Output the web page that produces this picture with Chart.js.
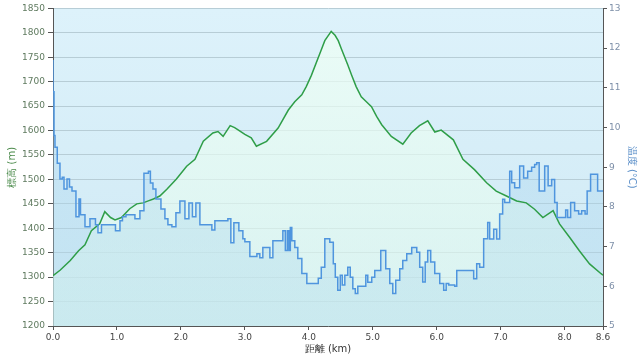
<!DOCTYPE html>
<html>
<head>
<meta charset="utf-8">
<script src="https://cdn.jsdelivr.net/npm/chart.js@4.4.1/dist/chart.umd.min.js"></script>
<style>
  html, body { margin: 0; padding: 0; background: #fff; }
  #wrap { width: 640px; height: 357px; }
</style>
</head>
<body>
<div id="wrap"><canvas id="myChart" width="640" height="357"></canvas></div>
<script>
// elevation profile (km, m)
const elevDist = [0, 0.11, 0.27, 0.40, 0.50, 0.60, 0.73, 0.81, 0.90, 0.97, 1.07, 1.20, 1.31, 1.41, 1.49, 1.57, 1.67, 1.78, 1.93,
  2.09, 2.22, 2.35, 2.50, 2.58, 2.66, 2.77, 2.84, 2.90, 3.00, 3.10, 3.18, 3.34, 3.52, 3.68, 3.78, 3.89, 3.96, 4.04, 4.20, 4.25,
  4.35, 4.41, 4.46, 4.51, 4.61, 4.67, 4.74, 4.82, 4.90, 4.98, 5.06, 5.14, 5.29, 5.47, 5.60, 5.73, 5.86, 5.97, 6.07, 6.26,
  6.41, 6.59, 6.78, 6.93, 7.09, 7.25, 7.40, 7.53, 7.66, 7.82, 7.92, 8.08, 8.23, 8.39, 8.57, 8.60];
const elevation = [1303, 1314, 1334, 1354, 1366, 1395, 1409, 1434, 1422, 1417, 1422, 1440, 1450, 1452, 1456, 1460, 1466, 1480, 1501,
  1527, 1541, 1578, 1595, 1598, 1588, 1610, 1606, 1601, 1592, 1585, 1568, 1578, 1605, 1642, 1659, 1673, 1690, 1713, 1767, 1784,
  1803, 1795, 1784, 1767, 1734, 1713, 1690, 1669, 1659, 1649, 1629, 1612, 1588, 1572, 1595, 1610, 1620, 1597, 1601, 1581,
  1541, 1520, 1493, 1476, 1466, 1456, 1452, 1439, 1422, 1436, 1409, 1381, 1354, 1327, 1307, 1304];

// temperature log (km where reading starts, °C)
const tempDist = [0, 0.016, 0.031, 0.067, 0.109, 0.145, 0.172, 0.219, 0.258, 0.297, 0.359, 0.406, 0.430, 0.500, 0.578, 0.664,
  0.703, 0.758, 0.977, 1.047, 1.086, 1.141, 1.281, 1.359, 1.422, 1.492, 1.523, 1.563, 1.609, 1.688, 1.750, 1.797, 1.859, 1.922,
  1.984, 2.063, 2.125, 2.180, 2.234, 2.297, 2.484, 2.531, 2.734, 2.781, 2.828, 2.906, 2.969, 3.000, 3.078, 3.188, 3.234, 3.281,
  3.391, 3.438, 3.594, 3.633, 3.664, 3.688, 3.711, 3.734, 3.781, 3.828, 3.891, 3.969, 4.148, 4.195, 4.250, 4.328, 4.383, 4.414,
  4.453, 4.492, 4.523, 4.563, 4.609, 4.648, 4.688, 4.727, 4.766, 4.891, 4.922, 4.984, 5.031, 5.125, 5.203, 5.266, 5.313, 5.359,
  5.422, 5.469, 5.531, 5.609, 5.688, 5.734, 5.781, 5.820, 5.859, 5.906, 5.969, 6.047, 6.109, 6.148, 6.188, 6.281, 6.313, 6.578,
  6.625, 6.672, 6.734, 6.797, 6.828, 6.891, 6.938, 6.984, 7.031, 7.063, 7.141, 7.172, 7.219, 7.297, 7.359, 7.422, 7.484, 7.531,
  7.563, 7.602, 7.688, 7.742, 7.797, 7.844, 7.883, 8.016, 8.047, 8.094, 8.156, 8.219, 8.266, 8.320, 8.352, 8.406, 8.516, 8.570, 8.600];
const temperature = [11.7, 10.9, 9.8, 9.5, 9.1, 8.7, 8.75, 8.45, 8.7, 8.5, 8.4, 7.75, 8.2, 7.8, 7.5, 7.7,
  7.55, 7.35, 7.55, 7.4, 7.65, 7.75, 7.8, 7.7, 7.9, 8.85, 8.9, 8.6, 8.45, 8.2, 7.95, 7.7, 7.55, 7.5,
  7.85, 8.15, 7.7, 8.1, 7.75, 8.1, 7.55, 7.42, 7.65, 7.7, 7.1, 7.6, 7.4, 7.2, 7.12, 6.75, 6.82, 6.72,
  6.98, 6.72, 7.15, 7.4, 6.9, 7.4, 6.9, 7.48, 7.15, 6.98, 6.7, 6.32, 6.07, 6.2, 6.48, 7.2, 7.11, 6.57,
  6.23, 5.9, 6.28, 6.03, 6.28, 6.48, 6.23, 5.94, 5.82, 6.0, 6.28, 6.1, 6.23, 6.4, 6.9, 6.44, 6.07, 5.82,
  6.15, 6.44, 6.65, 6.82, 6.98, 6.86, 6.48, 6.11, 6.61, 6.9, 6.61, 6.32, 6.07, 5.9, 6.07, 6.03, 6.0, 6.4,
  6.19, 6.57, 6.48, 7.2, 7.61, 7.19, 7.44, 7.19, 7.82, 8.19, 8.11, 8.9, 8.61, 8.48, 9.03, 8.73, 8.9, 9.0,
  9.07, 9.11, 8.4, 9.03, 8.53, 8.69, 8.11, 7.73, 7.92, 7.73, 8.11, 7.9, 7.82, 7.9, 7.82, 8.4, 8.82, 8.4, 8.4];

const distTicks = [0, 1, 2, 3, 4, 5, 6, 7, 8, 8.6];

const font = { family: "DejaVu Sans", size: 9 };
const titleFont = { family: "DejaVu Sans", size: 10 };

const plotBg = {
  id: "plotBg",
  beforeDraw(chart) {
    const { ctx, chartArea: a } = chart;
    const g = ctx.createLinearGradient(0, a.top, 0, a.bottom);
    g.addColorStop(0, "#ddf2fb");
    g.addColorStop(1, "#cfe9f4");
    ctx.save();
    ctx.fillStyle = g;
    ctx.fillRect(a.left, a.top, a.right - a.left, a.bottom - a.top);
    ctx.restore();
  },
};

function vGrad(context, top, bottom) {
  const a = context.chart.chartArea;
  if (!a) return top;
  const g = context.chart.ctx.createLinearGradient(0, a.top, 0, a.bottom);
  g.addColorStop(0, top);
  g.addColorStop(1, bottom);
  return g;
}

const ctx = document.getElementById("myChart").getContext("2d");
const myChart = new Chart(ctx, {
  type: "line",
  data: {
    datasets: [
      {
        label: "温度",
        yAxisID: "y1",
        data: tempDist.map((d, i) => ({ x: d, y: temperature[i] })),
        borderColor: "#4f95de",
        borderWidth: 1.5,
        backgroundColor: (c) => vGrad(c, "rgba(160,205,240,0.35)", "rgba(175,218,236,0.35)"),
        fill: "start",
        stepped: "after",
        pointRadius: 0,
      },
      {
        label: "標高",
        yAxisID: "y",
        data: elevDist.map((d, i) => ({ x: d, y: elevation[i] })),
        borderColor: "#2f9e48",
        borderWidth: 1.5,
        backgroundColor: (c) => vGrad(c, "rgba(240,255,245,0.75)", "rgba(225,250,238,0.55)"),
        fill: "start",
        tension: 0,
        pointRadius: 0,
      },
    ],
  },
  options: {
    responsive: false,
    animation: false,
    devicePixelRatio: 1,
    layout: { padding: { top: 0, left: 0, right: 0, bottom: 0 } },
    plugins: {
      legend: { display: false },
      tooltip: { enabled: false },
      filler: { drawTime: "beforeDatasetsDraw" },
    },
    scales: {
      x: {
        type: "linear",
        min: 0,
        max: 8.6,
        afterBuildTicks: (s) => { s.ticks = distTicks.map((v) => ({ value: v })); },
        afterFit: (s) => { s.height = 31; },
        ticks: { font: font, color: "#444", padding: 2, maxRotation: 0, autoSkip: false,
          callback: (v) => Number(v).toFixed(1) },
        grid: { drawOnChartArea: false, tickLength: 4, tickColor: "#555" },
        border: { color: "#555" },
        title: { display: true, text: "距離 (km)", font: titleFont, color: "#333", padding: { top: 2, bottom: 2 } },
      },
      y: {
        position: "left",
        min: 1200,
        max: 1850,
        afterFit: (s) => { s.width = 53; },
        ticks: { stepSize: 50, font: font, color: "#5f7a5f", padding: 3, callback: (v) => String(v) },
        grid: { color: "#b7cdd6", tickLength: 5, tickColor: "#555" },
        border: { color: "#555" },
        title: { display: true, text: "標高 (m)", font: titleFont, color: "#4a8a4a", padding: { top: 6, bottom: 0 } },
      },
      y1: {
        position: "right",
        min: 5,
        max: 13,
        afterFit: (s) => { s.width = 37; },
        ticks: { stepSize: 1, font: font, color: "#7d8fa8", padding: 2 },
        grid: { drawOnChartArea: false, tickLength: 4, tickColor: "#555" },
        border: { color: "#555" },
        title: { display: true, text: "温度 (°C)", font: titleFont, color: "#5b8fc9", padding: { top: 2, bottom: 0 } },
      },
    },
  },
  plugins: [plotBg],
});
</script>
</body>
</html>
